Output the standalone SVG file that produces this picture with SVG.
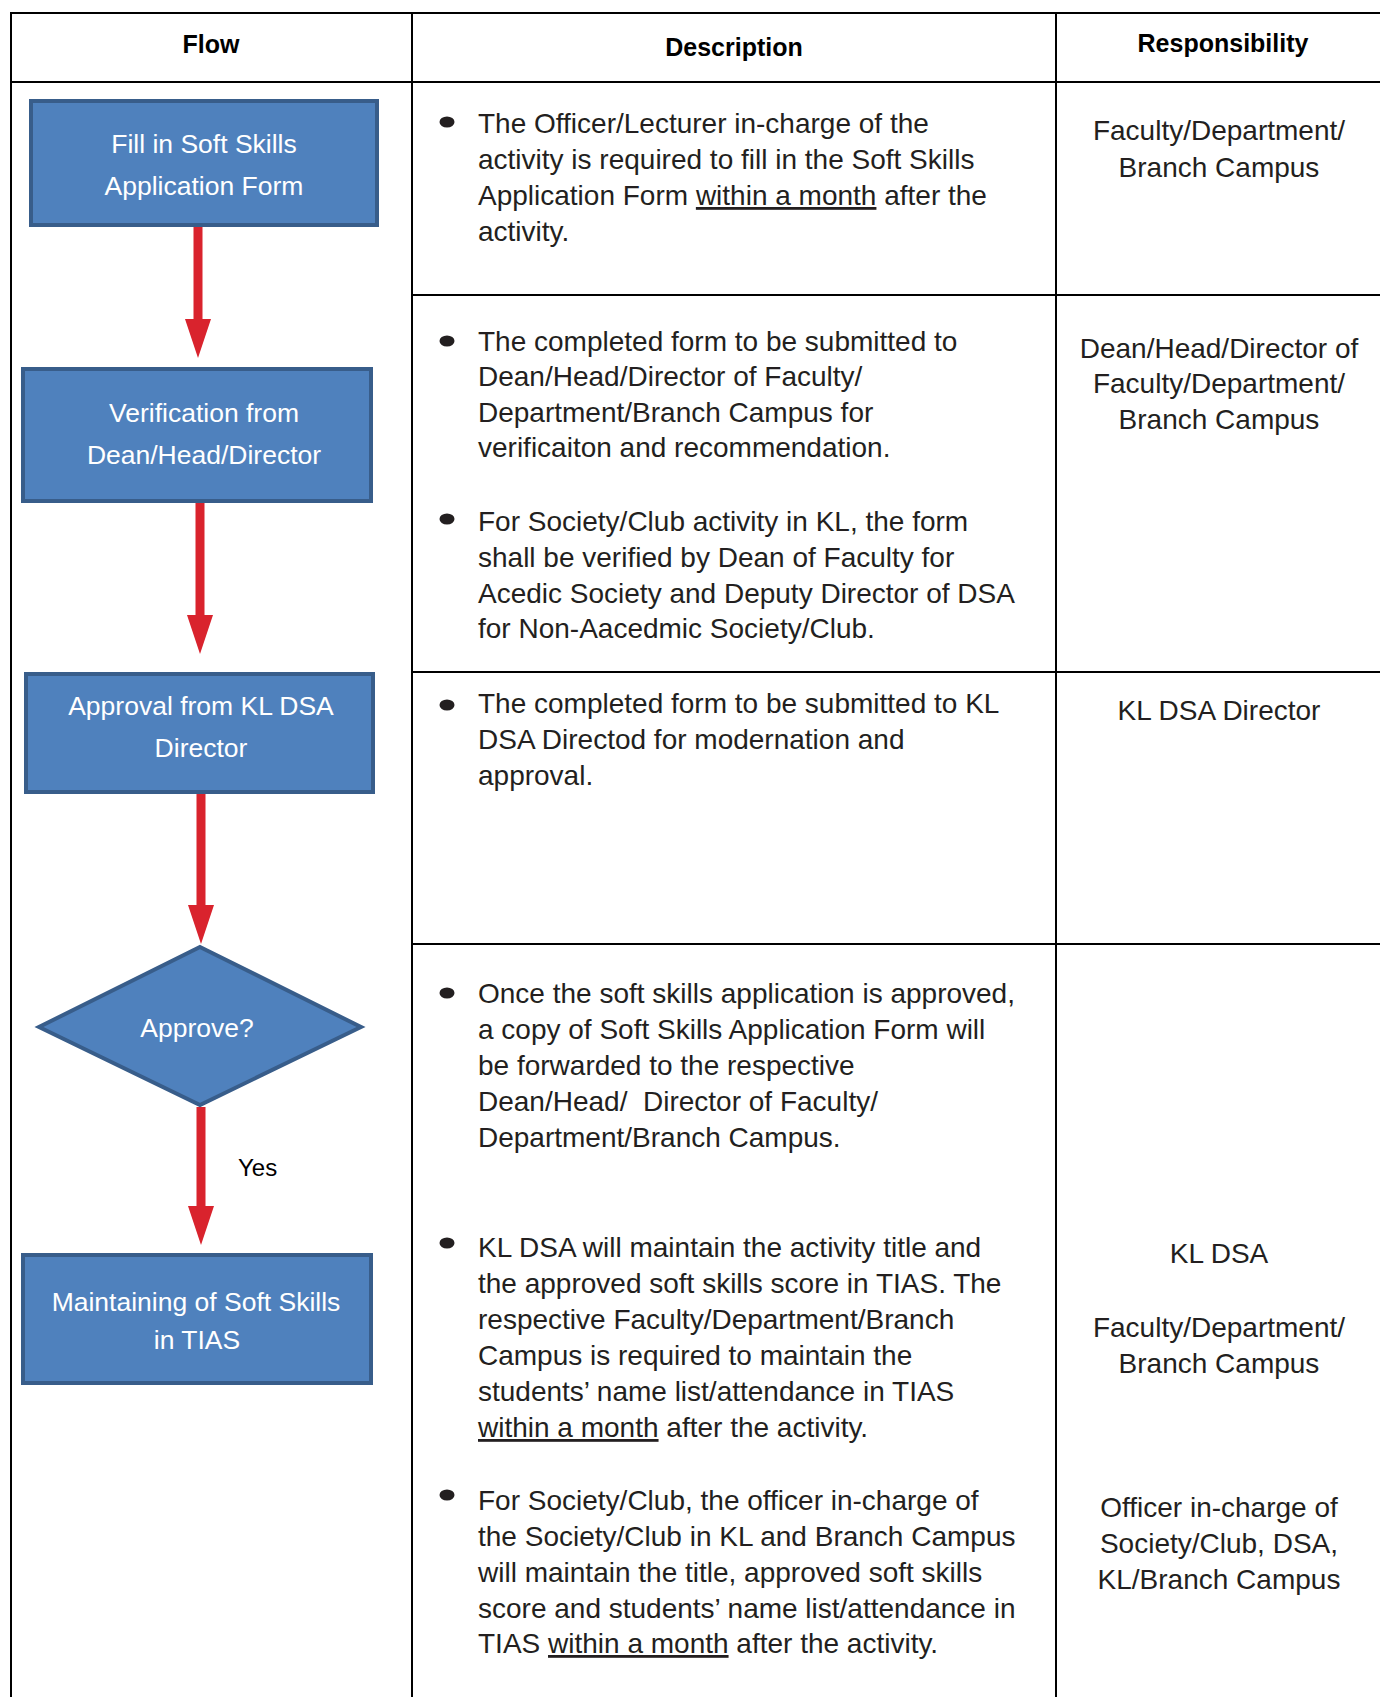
<svg xmlns="http://www.w3.org/2000/svg" width="1380" height="1697" viewBox="0 0 1380 1697">
<defs>
<style>
.grid{stroke:#000;stroke-width:2;fill:none}
.hdr{font-family:"Liberation Sans",Arial,sans-serif;font-weight:bold;font-size:25px;fill:#000;text-anchor:middle}
.box{fill:#4F81BD;stroke:#385D8A;stroke-width:4}
.bt{font-family:"Liberation Sans",Arial,sans-serif;font-size:26.5px;fill:#fff;text-anchor:middle}
.d{font-family:"Liberation Sans",Arial,sans-serif;font-size:28px;fill:#231F20;white-space:pre}
.r{font-family:"Liberation Sans",Arial,sans-serif;font-size:28px;fill:#231F20;text-anchor:middle}
.bul{fill:#231F20}
.arr{stroke:#D9232D;stroke-width:9;fill:none}
.u{text-decoration:underline}
.lbl{font-family:"Liberation Sans",Arial,sans-serif;font-size:24px;fill:#000}
</style>
<marker id="ah" viewBox="0 0 39 26" refX="0" refY="13" markerWidth="39" markerHeight="26" markerUnits="userSpaceOnUse" orient="auto">
<path d="M0,0 L39,13 L0,26 Z" fill="#D9232D"/>
</marker>
</defs>
<rect width="1380" height="1697" fill="#fff"/>
<g id="table">
<line class="grid" x1="11" y1="13" x2="1380" y2="13"/>
<line class="grid" x1="11" y1="82" x2="1380" y2="82"/>
<line class="grid" x1="11" y1="12" x2="11" y2="1697"/>
<line class="grid" x1="412" y1="12" x2="412" y2="1697"/>
<line class="grid" x1="1056" y1="12" x2="1056" y2="1697"/>
<line class="grid" x1="412" y1="295" x2="1380" y2="295"/>
<line class="grid" x1="412" y1="672" x2="1380" y2="672"/>
<line class="grid" x1="412" y1="944" x2="1380" y2="944"/>
<text class="hdr" x="211" y="53">Flow</text>
<text class="hdr" x="734" y="56">Description</text>
<text class="hdr" x="1223" y="52">Responsibility</text>
</g>
<g id="connectors">
<line class="arr" x1="198" y1="227" x2="198" y2="319" marker-end="url(#ah)"/>
<line class="arr" x1="200" y1="503" x2="200" y2="615" marker-end="url(#ah)"/>
<line class="arr" x1="201" y1="794" x2="201" y2="905" marker-end="url(#ah)"/>
<line class="arr" x1="201" y1="1107" x2="201" y2="1206" marker-end="url(#ah)"/>
<text class="lbl" x="238" y="1176">Yes</text>
</g>
<g id="node-fill">
<rect class="box" x="31" y="101" width="346" height="124"/>
<text class="bt" x="204" y="153">Fill in Soft Skills</text>
<text class="bt" x="204" y="195">Application Form</text>
</g>
<g id="node-verify">
<rect class="box" x="23" y="369" width="348" height="132"/>
<text class="bt" x="204" y="422">Verification from</text>
<text class="bt" x="204" y="464">Dean/Head/Director</text>
</g>
<g id="node-approval">
<rect class="box" x="26" y="674" width="347" height="118"/>
<text class="bt" x="201" y="715">Approval from KL DSA</text>
<text class="bt" x="201" y="757">Director</text>
</g>
<g id="node-decision">
<polygon class="box" points="200,947 361,1027 200,1105 39,1027"/>
<text class="bt" x="197" y="1037">Approve?</text>
</g>
<g id="node-maintain">
<rect class="box" x="23" y="1255" width="348" height="128"/>
<text class="bt" x="196" y="1311">Maintaining of Soft Skills</text>
<text class="bt" x="197" y="1349">in TIAS</text>
</g>
<g id="description">
<ellipse class="bul" cx="447" cy="122" rx="7.5" ry="5.5"/>
<text class="d" x="478" y="133">The Officer/Lecturer in-charge of the</text>
<text class="d" x="478" y="169">activity is required to fill in the Soft Skills</text>
<text class="d" x="478" y="205">Application Form <tspan class="u">within a month</tspan> after the</text>
<text class="d" x="478" y="241">activity.</text>
<ellipse class="bul" cx="447" cy="341" rx="7.5" ry="5.5"/>
<text class="d" x="478" y="351">The completed form to be submitted to</text>
<text class="d" x="478" y="386">Dean/Head/Director of Faculty/</text>
<text class="d" x="478" y="422">Department/Branch Campus for</text>
<text class="d" x="478" y="457">verificaiton and recommendation.</text>
<ellipse class="bul" cx="447" cy="519" rx="7.5" ry="5.5"/>
<text class="d" x="478" y="531">For Society/Club activity in KL, the form</text>
<text class="d" x="478" y="567">shall be verified by Dean of Faculty for</text>
<text class="d" x="478" y="603">Acedic Society and Deputy Director of DSA</text>
<text class="d" x="478" y="638">for Non-Aacedmic Society/Club.</text>
<ellipse class="bul" cx="447" cy="705" rx="7.5" ry="5.5"/>
<text class="d" x="478" y="713">The completed form to be submitted to KL</text>
<text class="d" x="478" y="749">DSA Directod for modernation and</text>
<text class="d" x="478" y="785">approval.</text>
<ellipse class="bul" cx="447" cy="993" rx="7.5" ry="5.5"/>
<text class="d" x="478" y="1003">Once the soft skills application is approved,</text>
<text class="d" x="478" y="1039">a copy of Soft Skills Application Form will</text>
<text class="d" x="478" y="1075">be forwarded to the respective</text>
<text class="d" x="478" y="1111">Dean/Head/  Director of Faculty/</text>
<text class="d" x="478" y="1147">Department/Branch Campus.</text>
<ellipse class="bul" cx="447" cy="1243" rx="7.5" ry="5.5"/>
<text class="d" x="478" y="1257">KL DSA will maintain the activity title and</text>
<text class="d" x="478" y="1293">the approved soft skills score in TIAS. The</text>
<text class="d" x="478" y="1329">respective Faculty/Department/Branch</text>
<text class="d" x="478" y="1365">Campus is required to maintain the</text>
<text class="d" x="478" y="1401">students’ name list/attendance in TIAS</text>
<text class="d" x="478" y="1437"><tspan class="u">within a month</tspan> after the activity.</text>
<ellipse class="bul" cx="447" cy="1495" rx="7.5" ry="5.5"/>
<text class="d" x="478" y="1510">For Society/Club, the officer in-charge of</text>
<text class="d" x="478" y="1546">the Society/Club in KL and Branch Campus</text>
<text class="d" x="478" y="1582">will maintain the title, approved soft skills</text>
<text class="d" x="478" y="1618">score and students’ name list/attendance in</text>
<text class="d" x="478" y="1653">TIAS <tspan class="u">within a month</tspan> after the activity.</text>
</g>
<g id="responsibility">
<text class="r" x="1219" y="140">Faculty/Department/</text>
<text class="r" x="1219" y="177">Branch Campus</text>
<text class="r" x="1219" y="358">Dean/Head/Director of</text>
<text class="r" x="1219" y="393">Faculty/Department/</text>
<text class="r" x="1219" y="429">Branch Campus</text>
<text class="r" x="1219" y="720">KL DSA Director</text>
<text class="r" x="1219" y="1263">KL DSA</text>
<text class="r" x="1219" y="1337">Faculty/Department/</text>
<text class="r" x="1219" y="1373">Branch Campus</text>
<text class="r" x="1219" y="1517">Officer in-charge of</text>
<text class="r" x="1219" y="1553">Society/Club, DSA,</text>
<text class="r" x="1219" y="1589">KL/Branch Campus</text>
</g>
</svg>
